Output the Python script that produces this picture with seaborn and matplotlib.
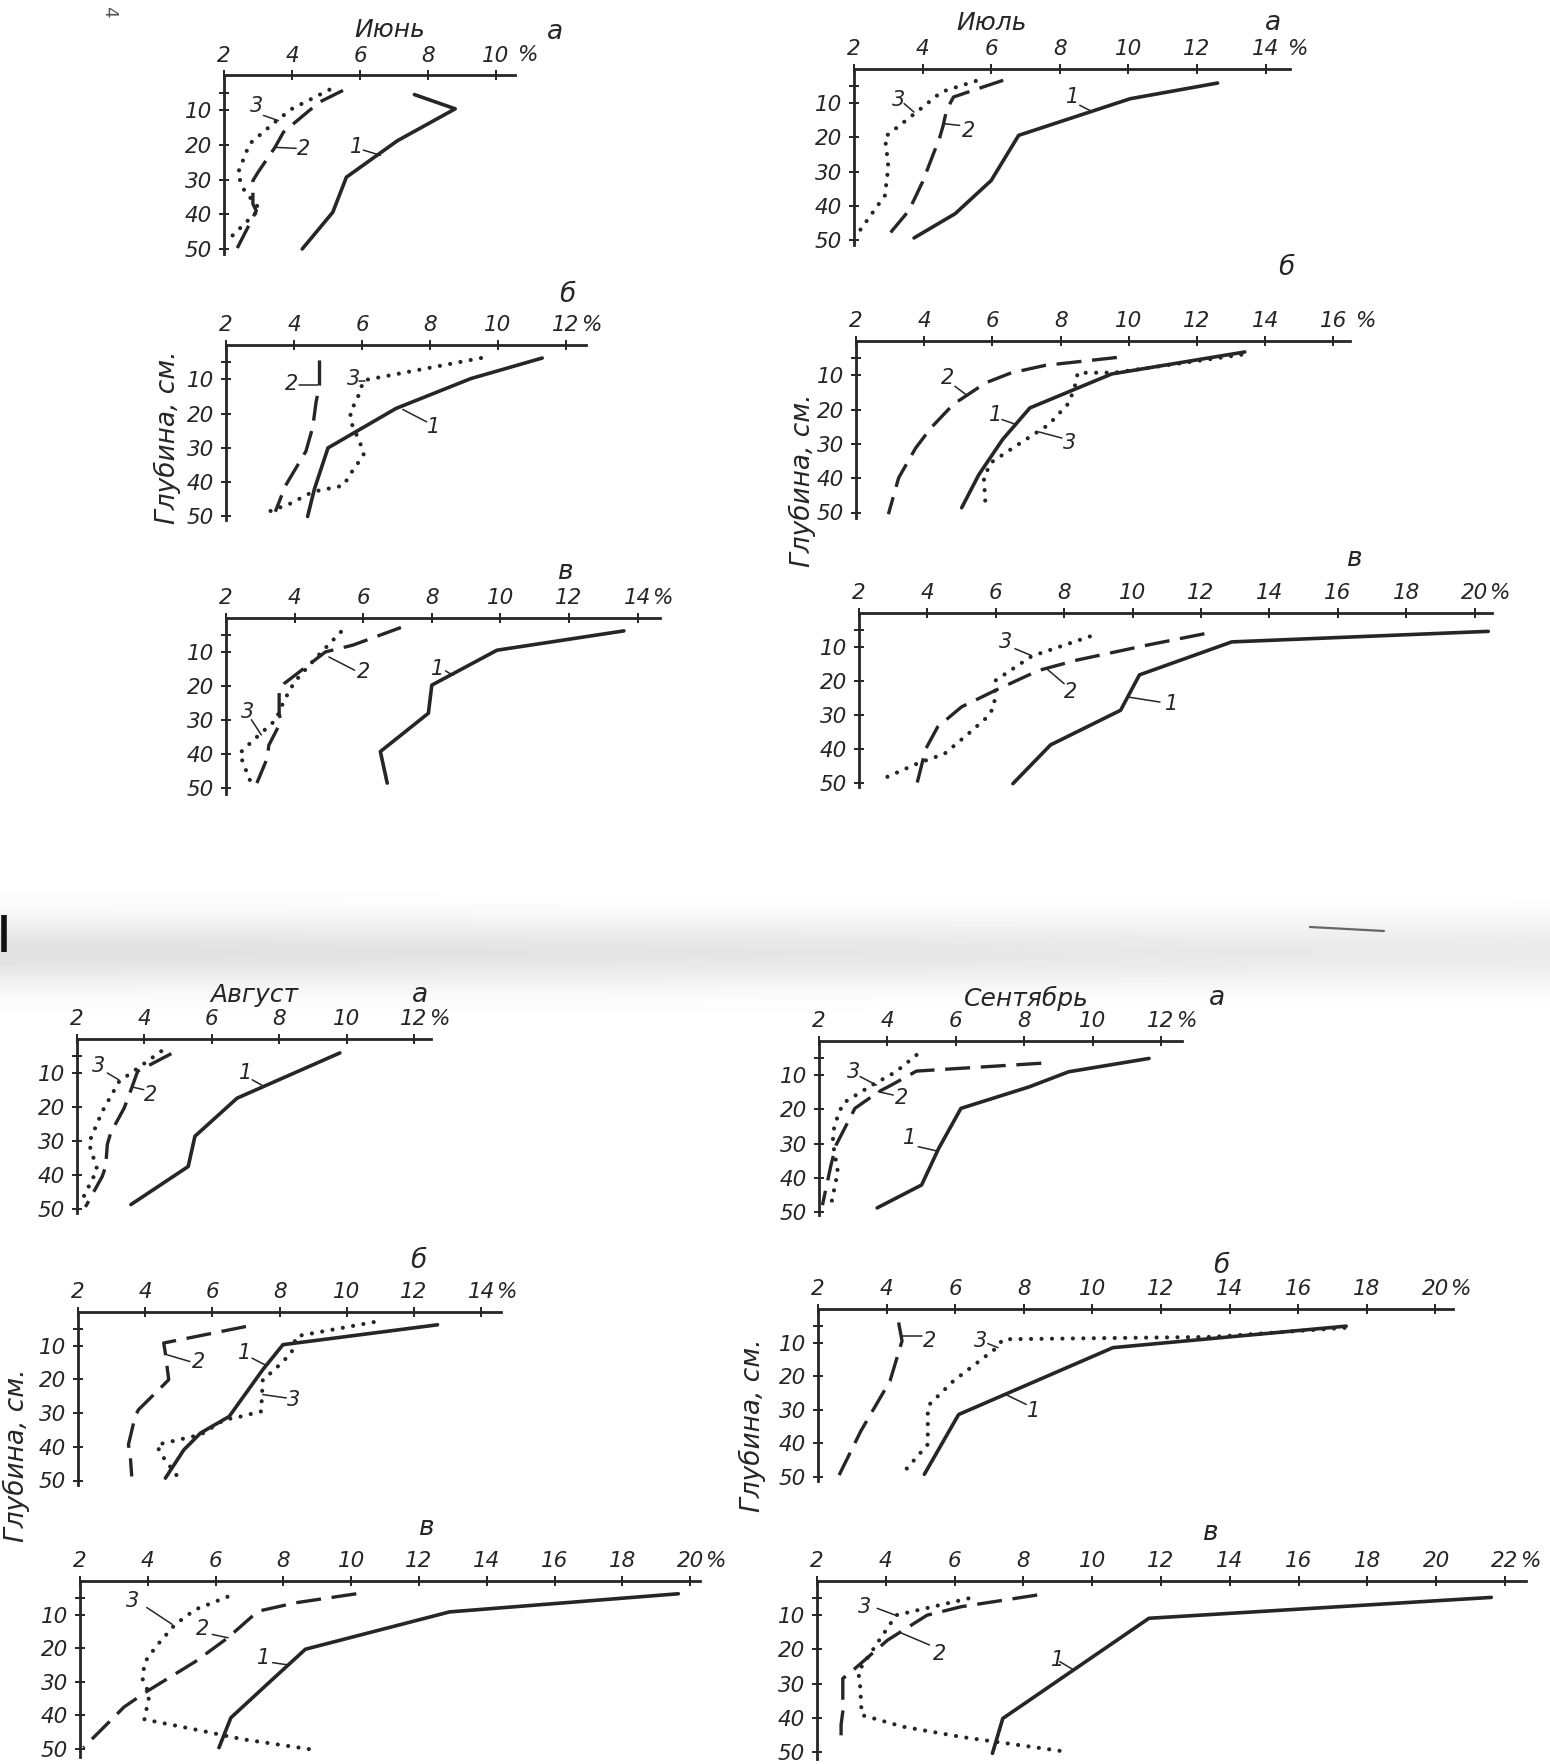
import matplotlib
matplotlib.use("Agg")
import matplotlib.pyplot as plt
import numpy as np
import seaborn as sns

sns.set_theme(style="white")
plt.rcParams["font.family"] = ["DejaVu Sans"]
plt.rcParams["font.style"] = "italic"
plt.rcParams["axes.facecolor"] = "none"

INK = "#262626"
W, H = 1550, 1764

# ---------------- soil moisture (%) against depth (cm) ----------------
# curve 1 - solid, curve 2 - dashed, curve 3 - dotted
# June
jun_a_m1 = [7.6, 8.8, 7.1, 5.6, 5.2, 4.3]
jun_a_d1 = [5.5, 9.6, 18.8, 29.3, 39.4, 50.0]
jun_a_m2 = [5.5, 4.8, 3.75, 3.5, 3.0, 2.85, 2.85, 2.95, 2.35]
jun_a_d2 = [4.3, 7.7, 16.3, 20.7, 27.9, 30.3, 37.0, 39.0, 50.5]
jun_a_m3 = [5.1, 4.0, 3.55, 2.75, 2.4, 2.6, 3.05, 2.2]
jun_a_d3 = [4.1, 9.6, 13.0, 19.7, 28.4, 33.2, 38.5, 46.6]

jun_b_m1 = [11.3, 9.2, 7.0, 5.0, 4.6, 4.4]
jun_b_d1 = [3.8, 9.8, 18.5, 30.0, 42.0, 50.0]
jun_b_m2 = [4.75, 4.75, 4.65, 4.55, 4.35, 3.75, 3.45]
jun_b_d2 = [4.5, 11.7, 16.6, 24.0, 31.0, 41.0, 48.6]
jun_b_m3 = [9.5, 6.05, 5.85, 5.65, 5.7, 5.95, 6.05, 5.7, 5.45, 4.55, 3.9, 3.2]
jun_b_d3 = [3.8, 10.3, 16.0, 19.5, 23.0, 28.7, 32.0, 37.0, 41.0, 42.8, 46.2, 48.8]

jun_v_m1 = [13.6, 9.9, 8.0, 7.9, 6.5, 6.7]
jun_v_d1 = [3.8, 9.5, 19.8, 28.1, 39.4, 48.7]
jun_v_m2 = [7.1, 5.7, 4.9, 3.7, 3.55, 3.55, 3.6, 3.25, 3.2, 2.9]
jun_v_d2 = [2.8, 8.0, 10.0, 19.3, 21.3, 28.1, 30.6, 37.5, 41.4, 48.7]
jun_v_m3 = [5.35, 4.6, 4.0, 3.7, 3.45, 2.8, 2.4, 2.5, 2.75]
jun_v_d3 = [4.1, 12.0, 18.8, 24.2, 30.1, 36.0, 39.9, 42.8, 49.2]

# July
jul_a_m1 = [12.6, 10.05, 6.8, 6.0, 4.95, 3.75]
jul_a_d1 = [4.1, 8.7, 19.4, 32.6, 42.3, 49.4]
jul_a_m2 = [6.35, 5.6, 4.9, 4.7, 4.6, 4.5, 4.0, 3.6, 3.05]
jul_a_d2 = [3.3, 5.8, 8.2, 12.0, 16.5, 20.0, 33.0, 41.4, 48.0]
jul_a_m3 = [5.55, 4.55, 3.95, 2.9, 2.95, 3.0, 2.9, 2.1]
jul_a_d3 = [3.5, 6.7, 11.6, 19.9, 23.8, 28.7, 37.0, 48.2]

jul_b_m1 = [13.4, 9.5, 7.1, 6.3, 5.6, 5.1]
jul_b_d1 = [3.2, 9.6, 19.5, 28.7, 39.0, 48.6]
jul_b_m2 = [9.65, 7.55, 6.55, 5.8, 4.85, 4.2, 3.75, 3.25, 2.95]
jul_b_d2 = [4.8, 7.1, 9.3, 12.2, 18.5, 25.3, 31.2, 39.9, 50.5]
jul_b_m3 = [13.3, 9.6, 8.5, 8.45, 8.25, 7.65, 6.75, 5.95, 5.75, 5.8]
jul_b_d3 = [4.0, 9.2, 9.3, 12.2, 18.0, 24.4, 30.2, 35.5, 40.0, 48.2]

jul_v_m1 = [20.4, 12.9, 10.2, 9.65, 7.6, 6.5]
jul_v_d1 = [5.4, 8.5, 18.2, 28.6, 38.8, 50.2]
jul_v_m2 = [12.1, 10.4, 8.35, 7.25, 6.0, 5.0, 4.3, 3.95, 3.7]
jul_v_d2 = [6.1, 9.5, 13.9, 16.9, 22.7, 27.6, 33.5, 40.0, 50.0]
jul_v_m3 = [8.75, 7.05, 6.5, 6.0, 5.95, 5.75, 5.2, 4.5, 3.7, 2.6]
jul_v_d3 = [6.9, 12.7, 16.4, 19.8, 27.6, 30.6, 35.5, 41.4, 44.3, 49.2]

# August
aug_a_m1 = [9.8, 6.75, 5.5, 5.3, 3.6]
aug_a_d1 = [4.1, 17.4, 28.6, 37.5, 48.7]
aug_a_m2 = [4.8, 3.8, 3.55, 3.4, 3.0, 2.9, 2.85, 2.75, 2.25]
aug_a_d2 = [4.3, 9.5, 16.4, 20.3, 27.6, 31.0, 37.5, 40.4, 49.4]
aug_a_m3 = [4.5, 3.25, 2.75, 2.35, 2.6, 2.15]
aug_a_d3 = [3.6, 12.5, 21.3, 30.6, 38.4, 47.3]

aug_b_m1 = [12.7, 8.1, 7.5, 6.5, 5.65, 5.15, 4.6]
aug_b_d1 = [3.8, 9.7, 17.1, 31.0, 35.9, 40.9, 49.3]
aug_b_m2 = [7.0, 4.55, 4.6, 4.7, 4.5, 3.8, 3.7, 3.5, 3.55, 3.6]
aug_b_d2 = [4.3, 9.2, 12.2, 20.1, 22.1, 29.0, 31.0, 39.4, 41.9, 48.8]
aug_b_m3 = [10.8, 8.5, 8.35, 7.8, 7.5, 7.45, 6.85, 6.35, 5.65, 4.35, 4.45, 4.7, 5.05]
aug_b_d3 = [3.0, 7.2, 12.2, 17.6, 20.0, 29.5, 31.0, 32.0, 36.4, 39.4, 41.9, 45.3, 50.0]

aug_v_m1 = [19.65, 12.9, 8.65, 7.6, 6.45, 6.1]
aug_v_d1 = [3.8, 9.2, 20.3, 30.0, 40.7, 49.6]
aug_v_m2 = [10.15, 8.35, 7.25, 6.35, 5.4, 3.95, 3.3, 2.1]
aug_v_d2 = [3.8, 6.5, 9.0, 17.0, 24.0, 33.0, 37.5, 49.6]
aug_v_m3 = [6.35, 5.4, 4.8, 4.25, 3.9, 3.85, 4.05, 3.9, 5.4, 6.8, 8.8]
aug_v_d3 = [4.7, 8.5, 13.0, 19.4, 24.3, 29.3, 33.8, 41.2, 44.2, 47.1, 50.1]

# September
sep_a_m1 = [11.65, 9.3, 8.15, 6.15, 5.5, 5.0, 3.7]
sep_a_d1 = [5.1, 9.0, 13.4, 19.7, 31.4, 42.1, 48.8]
sep_a_m2 = [8.5, 4.85, 4.15, 3.75, 3.05, 2.5, 2.35, 2.1]
sep_a_d2 = [6.5, 8.8, 12.7, 14.8, 19.7, 30.4, 36.3, 48.0]
sep_a_m3 = [4.85, 4.25, 3.55, 2.7, 2.45, 2.4, 2.55, 2.35]
sep_a_d3 = [4.1, 9.0, 12.9, 18.2, 24.6, 29.5, 38.2, 48.0]

sep_b_m1 = [17.4, 10.6, 6.1, 5.1]
sep_b_d1 = [5.1, 11.5, 31.4, 49.2]
sep_b_m2 = [4.35, 4.45, 4.1, 3.25, 2.55]
sep_b_d2 = [4.0, 9.5, 21.4, 36.3, 50.8]
sep_b_m3 = [17.35, 13.5, 7.4, 7.15, 5.95, 5.25, 5.2, 5.2, 4.4]
sep_b_d3 = [5.6, 8.3, 9.0, 12.0, 21.4, 28.4, 30.4, 40.3, 49.7]

sep_v_m1 = [21.6, 11.65, 7.4, 7.1]
sep_v_d1 = [4.8, 10.9, 40.2, 50.4]
sep_v_m2 = [8.4, 6.2, 5.2, 4.05, 3.0, 2.75, 2.75, 2.7, 2.7]
sep_v_d2 = [4.1, 7.5, 10.0, 17.3, 26.5, 28.5, 38.2, 42.0, 47.0]
sep_v_m3 = [6.4, 4.3, 3.75, 3.2, 3.25, 3.3, 4.5, 6.2, 9.3]
sep_v_d3 = [5.1, 10.0, 18.2, 26.5, 30.0, 39.2, 42.6, 45.6, 50.0]

MONTHS = ["Июнь", "Июль", "Август", "Сентябрь"]
LETTERS = ["а", "б", "в"]
DEPTH_TICKS = [10, 20, 30, 40, 50]
DEPTH_LABEL = "Глубина, см."

# ---------------- drawing styles ----------------
STYLES = [
    dict(linestyle="-", linewidth=2.6, solid_capstyle="round", solid_joinstyle="round"),
    dict(linestyle=(0, (7.5, 3.2)), linewidth=2.4, dash_capstyle="butt"),
    dict(linestyle=(0, (0.01, 2.5)), linewidth=3.0, dash_capstyle="round"),
]

fig = plt.figure(figsize=(W / 100, H / 100), dpi=100)

# faint scanner shading across the page break
bg = fig.add_axes([0, 0, 1, 1], zorder=-5)
yy = np.arange(H)[:, None]
xx = np.arange(W)[None, :]
band = np.exp(-((yy - 952) / 34.0) ** 2)
shade = 1 - (0.12 - 0.04 * xx / W) * band
bg.imshow(shade, cmap="gray", vmin=0, vmax=1, extent=(0, W, H, 0), aspect="auto")
bg.plot([4, 4], [915, 952], color="#111111", lw=4, solid_capstyle="butt")
bg.plot([1310, 1384], [927, 931], color="#666666", lw=1.6)
bg.set_xlim(0, W)
bg.set_ylim(H, 0)
bg.axis("off")

fig.text(109 / W, 1 - 12 / H, "4", rotation=-90, fontsize=13, color="#555555",
         ha="center", va="center", fontstyle="normal")


def add_panel(curves, box, last_tick, pct_space, leaders):
    ox, oy, sx, sy, xmax, ymax = box
    w = (xmax - 2) * sx
    h = ymax / 10 * sy
    ax = fig.add_axes([ox / W, 1 - (oy + h) / H, w / W, h / H])
    for (m, d), st in zip(curves, STYLES):
        sns.lineplot(x=m, y=d, sort=False, estimator=None, ax=ax, color=INK,
                     clip_on=False, **st)
    ax.set_xlim(2, xmax)
    ax.set_ylim(ymax, 0)
    ax.set_xlabel("")
    ax.set_ylabel("")
    for s in ("right", "bottom"):
        ax.spines[s].set_visible(False)
    for s in ("top", "left"):
        ax.spines[s].set_color(INK)
        ax.spines[s].set_linewidth(2.0)
    xt = list(range(2, last_tick + 1, 2))
    ax.xaxis.tick_top()
    ax.set_xticks(xt)
    ax.set_xticklabels([str(v) for v in xt])
    ax.set_yticks(DEPTH_TICKS)
    ax.set_yticklabels([str(v) for v in DEPTH_TICKS])
    ax.set_yticks([5], minor=True)
    ax.tick_params(axis="x", which="major", top=True, bottom=False, labeltop=True,
                   labelbottom=False, direction="inout", length=7, width=1.4,
                   pad=3.5, labelsize=15.5, colors=INK)
    ax.tick_params(axis="y", which="both", left=True, right=False, direction="inout",
                   length=7, width=1.4, pad=5, labelsize=15.5, colors=INK)
    # percent sign follows the last number
    ax.annotate("%", xy=(last_tick, 0), xycoords="data",
                xytext=(15.5 if pct_space else 10.5, 7.5), textcoords="offset points",
                ha="left", va="bottom", fontsize=15.5, color=INK,
                annotation_clip=False)
    for txt, tx, ty, x0, y0, x1, y1 in leaders:
        ax.plot([x0, x1], [y0, y1], color=INK, lw=1.1, clip_on=False)
        ax.text(tx, ty, txt, ha="center", va="center", fontsize=15, color=INK)
    return ax


PANELS = [
    # June
    (((jun_a_m1, jun_a_d1), (jun_a_m2, jun_a_d2), (jun_a_m3, jun_a_d3)),
     (224, 75.5, 34.0, 34.7, 10.55, 51.4), 10, True,
     [("3", 2.96, 8.7, 3.16, 11.5, 3.6, 13.0), ("2", 4.33, 21.2, 4.12, 21.0, 3.5, 20.7),
      ("1", 5.9, 20.5, 6.1, 21.5, 6.6, 23.0)], ("а", 555, 32)),
    (((jun_b_m1, jun_b_d1), (jun_b_m2, jun_b_d2), (jun_b_m3, jun_b_d3)),
     (226, 345, 34.0, 34.3, 12.6, 51.0), 12, False,
     [("2", 3.93, 11.3, 4.15, 11.7, 4.7, 11.7), ("3", 5.75, 9.8, 5.92, 10.4, 6.1, 10.4),
      ("1", 8.1, 23.9, 7.9, 22.4, 7.2, 18.8)], ("б", 567, 295)),
    (((jun_v_m1, jun_v_d1), (jun_v_m2, jun_v_d2), (jun_v_m3, jun_v_d3)),
     (226, 618, 34.3, 33.9, 14.65, 52.0), 14, False,
     [("2", 6.0, 15.9, 5.75, 15.4, 5.0, 11.5), ("1", 8.16, 14.9, 8.4, 15.6, 8.62, 16.9),
      ("3", 2.64, 27.6, 2.74, 30.0, 3.03, 34.5)], ("в", 566, 572)),
    # July
    (((jul_a_m1, jul_a_d1), (jul_a_m2, jul_a_d2), (jul_a_m3, jul_a_d3)),
     (854, 69, 34.3, 34.2, 14.7, 51.6), 14, True,
     [("3", 3.31, 9.2, 3.46, 10.1, 3.75, 12.6), ("2", 5.33, 18.0, 5.08, 16.5, 4.64, 16.0),
      ("1", 8.38, 8.2, 8.58, 10.6, 8.93, 12.4)], ("а", 1273, 23)),
    (((jul_b_m1, jul_b_d1), (jul_b_m2, jul_b_d2), (jul_b_m3, jul_b_d3)),
     (856, 341, 34.1, 34.3, 16.5, 51.5), 16, True,
     [("2", 4.68, 10.8, 4.9, 13.2, 5.25, 15.8), ("1", 6.1, 21.5, 6.28, 22.9, 6.68, 24.3),
      ("3", 8.27, 29.7, 8.04, 28.3, 7.36, 26.5)], ("б", 1286, 268)),
    (((jul_v_m1, jul_v_d1), (jul_v_m2, jul_v_d2), (jul_v_m3, jul_v_d3)),
     (859, 613, 34.2, 34.0, 20.5, 51.2), 20, False,
     [("3", 6.29, 8.5, 6.56, 10.5, 7.04, 12.5), ("2", 8.2, 23.2, 8.0, 20.8, 7.5, 16.5),
      ("1", 11.15, 26.7, 10.8, 26.2, 9.86, 24.7)], ("в", 1355, 559)),
    # August
    (((aug_a_m1, aug_a_d1), (aug_a_m2, aug_a_d2), (aug_a_m3, aug_a_d3)),
     (77, 1039, 33.7, 34.0, 12.5, 51.2), 12, False,
     [("3", 2.64, 8.0, 2.9, 10.0, 3.24, 12.0), ("2", 4.18, 16.4, 3.98, 14.9, 3.63, 14.1),
      ("1", 7.0, 10.0, 7.2, 12.0, 7.54, 13.9)], ("а", 420, 995)),
    (((aug_b_m1, aug_b_d1), (aug_b_m2, aug_b_d2), (aug_b_m3, aug_b_d3)),
     (78, 1312, 33.6, 33.7, 14.6, 51.3), 14, False,
     [("2", 5.59, 14.7, 5.33, 14.7, 4.65, 12.7), ("1", 6.97, 12.2, 7.18, 13.7, 7.59, 15.8),
      ("3", 8.41, 26.0, 8.2, 25.5, 7.5, 24.5)], ("б", 418, 1261)),
    (((aug_v_m1, aug_v_d1), (aug_v_m2, aug_v_d2), (aug_v_m3, aug_v_d3)),
     (80, 1581, 33.9, 33.6, 20.3, 52.5), 20, False,
     [("3", 3.55, 6.0, 3.97, 7.9, 4.72, 12.9), ("2", 5.62, 14.4, 5.9, 15.9, 6.37, 16.9),
      ("1", 7.41, 22.8, 7.68, 24.3, 8.16, 25.0)], ("в", 427, 1528)),
    # September
    (((sep_a_m1, sep_a_d1), (sep_a_m2, sep_a_d2), (sep_a_m3, sep_a_d3)),
     (819, 1041, 34.2, 34.2, 12.6, 51.0), 12, False,
     [("3", 3.0, 9.0, 3.2, 10.4, 3.68, 12.9), ("2", 4.41, 16.8, 4.17, 15.8, 3.73, 14.8),
      ("1", 4.66, 28.5, 4.9, 30.9, 5.47, 32.2)], ("а", 1217, 998)),
    (((sep_b_m1, sep_b_d1), (sep_b_m2, sep_b_d2), (sep_b_m3, sep_b_d3)),
     (818, 1309, 34.3, 33.6, 20.5, 51.2), 20, False,
     [("2", 5.25, 9.5, 5.04, 8.0, 4.45, 8.0), ("3", 6.73, 9.5, 6.95, 10.3, 7.25, 11.5),
      ("1", 8.29, 30.4, 8.07, 28.4, 7.46, 25.4)], ("б", 1221, 1266)),
    (((sep_v_m1, sep_v_d1), (sep_v_m2, sep_v_d2), (sep_v_m3, sep_v_d3)),
     (817, 1581, 34.4, 34.2, 22.6, 52.0), 22, False,
     [("3", 3.37, 7.5, 3.75, 8.0, 4.28, 10.0), ("2", 5.57, 21.2, 5.27, 18.7, 4.4, 15.0),
      ("1", 8.99, 23.1, 9.06, 23.6, 9.46, 26.0)], ("в", 1211, 1533)),
]

for curves, box, last_tick, pct_space, leaders, (letter, lx, ly) in PANELS:
    add_panel(curves, box, last_tick, pct_space, leaders)
    fig.text(lx / W, 1 - ly / H, letter, ha="center", va="center", fontsize=19, color=INK)

# month headings
for name, (mx, my) in zip(MONTHS, [(390, 30), (992, 23), (254, 995), (1026, 998)]):
    fig.text(mx / W, 1 - my / H, name, ha="center", va="center", fontsize=18, color=INK)

# depth axis captions
for (cx, cy) in [(167, 437), (802, 480), (16, 1455), (752, 1425)]:
    fig.text(cx / W, 1 - cy / H, DEPTH_LABEL, rotation=90, ha="center", va="center",
             fontsize=19, color=INK)

fig.savefig("out.png", dpi=100, facecolor="white")
